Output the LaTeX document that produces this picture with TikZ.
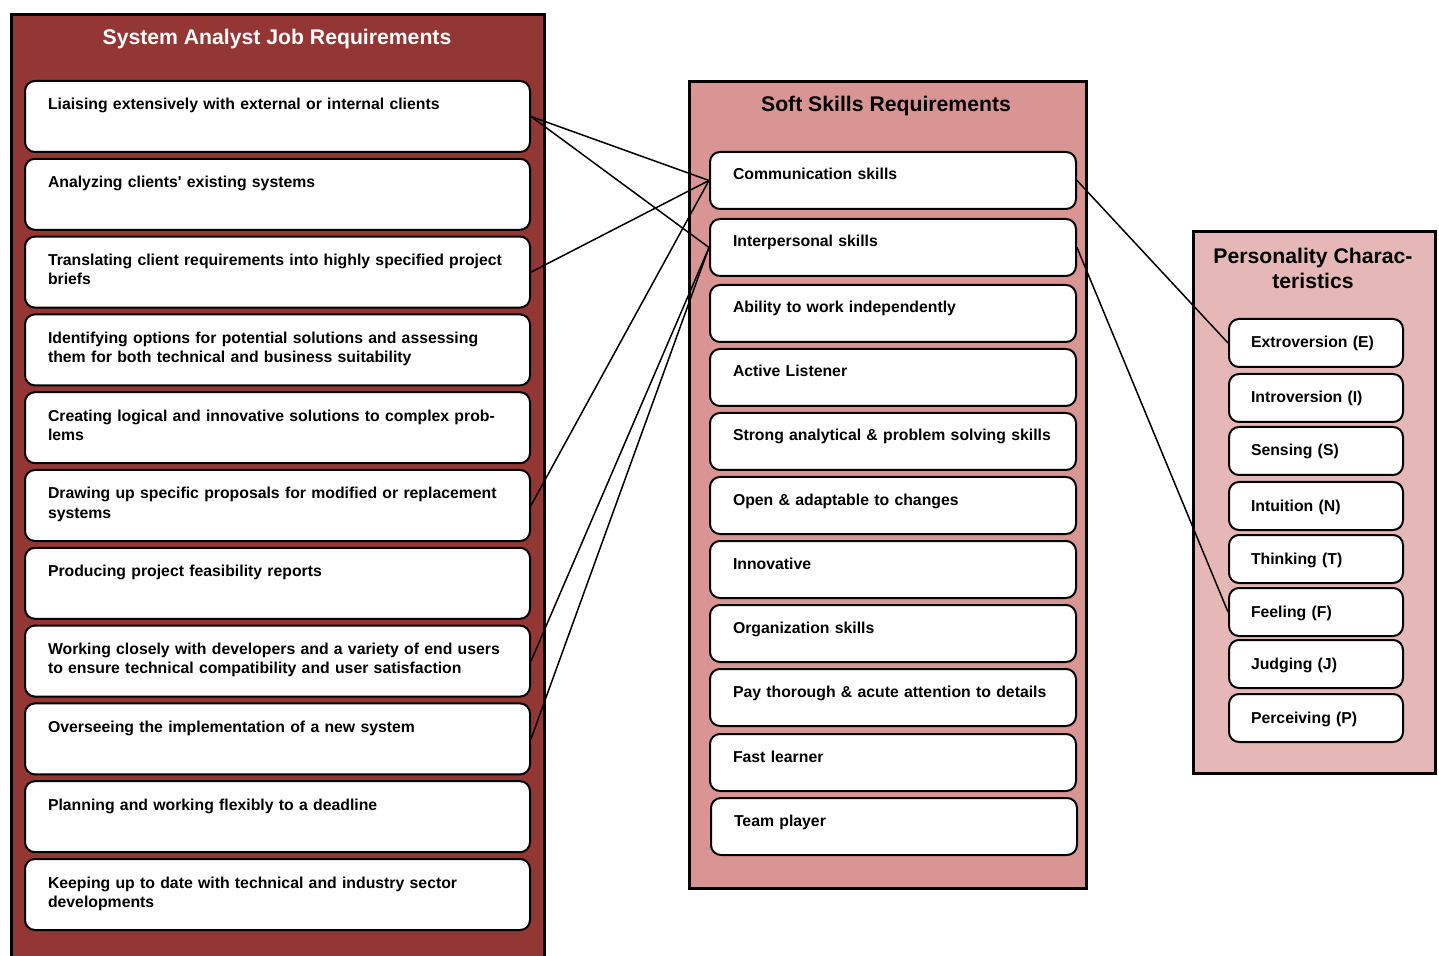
\documentclass[tikz,border=0pt]{standalone}
\usepackage{fontspec}
\setmainfont{Liberation Sans}
\definecolor{darkred}{RGB}{148,54,52}
\definecolor{midred}{RGB}{217,149,148}
\definecolor{lightred}{RGB}{229,184,183}
\begin{document}
\begin{tikzpicture}[x=0.5pt,y=-0.5pt,
  panel/.style={draw=black, line width=1.7pt, anchor=north west, inner sep=0pt},
  ptitle/.style={font=\bfseries\fontsize{10.6}{12.5}\selectfont, align=center, inner sep=0pt},
  boxbase/.style={draw=black, fill=white, line width=1pt, rounded corners=5pt,
    anchor=north west, inner ysep=0pt, align=left,
    font=\bfseries\fontsize{7.9}{9.5}\selectfont},
  lbox/.style={boxbase, inner xsep=11.5pt, text width=229.5pt, text height=14.5pt, text depth=21pt},
  mbox/.style={boxbase, inner xsep=11.5pt, text width=160pt, text height=14pt, text depth=14.5pt},
  rbox/.style={boxbase, inner xsep=11pt, text width=65pt, text height=14.5pt, text depth=9.5pt},
  conn/.style={draw=black, line width=0.75pt}
]
\useasboundingbox (0,0) rectangle (1439,956);
\clip (0,0) rectangle (1439,956);

% panels
\node[panel, fill=darkred, minimum width=266.5pt, minimum height=483.5pt] (P1) at (10,13) {};
\node[panel, fill=midred, minimum width=198.5pt, minimum height=403.5pt] (P2) at (688,80) {};
\node[panel, fill=lightred, minimum width=121pt, minimum height=271pt] (P3) at (1192,230) {};

\node[ptitle, text=white] (T1) at (277,39) {System Analyst Job Requirements};
\node[ptitle] (T2) at (886,106) {Soft Skills Requirements};
\node[ptitle] (T3) at (1313,268) {Personality Charac-\\teristics};

% left boxes
\node[lbox] (L1) at (24,80) {Liaising extensively with external or internal clients};
\node[lbox] (L2) at (24,157.8) {Analyzing clients\textquotesingle{} existing systems};
\node[lbox] (L3) at (24,235.6) {\mbox{Translating client requirements into highly specified project}\\briefs};
\node[lbox] (L4) at (24,313.4) {\mbox{Identifying options for potential solutions and assessing}\\\mbox{them for both technical and business suitability}};
\node[lbox] (L5) at (24,391.2) {\mbox{Creating logical and innovative solutions to complex prob-}\\lems};
\node[lbox] (L6) at (24,469) {\mbox{Drawing up specific proposals for modified or replacement}\\systems};
\node[lbox] (L7) at (24,546.8) {Producing project feasibility reports};
\node[lbox] (L8) at (24,624.6) {\mbox{Working closely with developers and a variety of end users}\\\mbox{to ensure technical compatibility and user satisfaction}};
\node[lbox] (L9) at (24,702.4) {Overseeing the implementation of a new system};
\node[lbox] (L10) at (24,780.2) {Planning and working flexibly to a deadline};
\node[lbox] (L11) at (24,858) {\mbox{Keeping up to date with technical and industry sector}\\developments};

% middle boxes
\node[mbox] (M1) at (709,151) {Communication skills};
\node[mbox] (M2) at (709,218) {Interpersonal skills};
\node[mbox] (M3) at (709,284) {Ability to work independently};
\node[mbox] (M4) at (709,348) {Active Listener};
\node[mbox] (M5) at (709,412) {\mbox{Strong analytical \& problem solving skills}};
\node[mbox] (M6) at (709,476) {Open \& adaptable to changes};
\node[mbox] (M7) at (709,540) {Innovative};
\node[mbox] (M8) at (709,604) {Organization skills};
\node[mbox] (M9) at (709,668) {\mbox{Pay thorough \& acute attention to details}};
\node[mbox] (M10) at (709,733) {Fast learner};
\node[mbox] (M11) at (710,797) {Team player};

% right boxes
\node[rbox] (R1) at (1228,318) {Extroversion (E)};
\node[rbox] (R2) at (1228,373) {Introversion (I)};
\node[rbox] (R3) at (1228,426) {Sensing (S)};
\node[rbox] (R4) at (1228,481) {Intuition (N)};
\node[rbox] (R5) at (1228,534) {Thinking (T)};
\node[rbox] (R6) at (1228,587) {Feeling (F)};
\node[rbox] (R7) at (1228,639) {Judging (J)};
\node[rbox] (R8) at (1228,693) {Perceiving (P)};

% connectors
\draw[conn] (L1.east) -- (M1.west);
\draw[conn] (L1.east) -- (M2.west);
\draw[conn] (L3.east) -- (M1.west);
\draw[conn] (L6.east) -- (M1.west);
\draw[conn] (L8.east) -- (M2.west);
\draw[conn] (L9.east) -- (M2.west);
\draw[conn] (M1.east) -- (R1.west);
\draw[conn] (M2.east) -- (R6.west);
\end{tikzpicture}
\end{document}
